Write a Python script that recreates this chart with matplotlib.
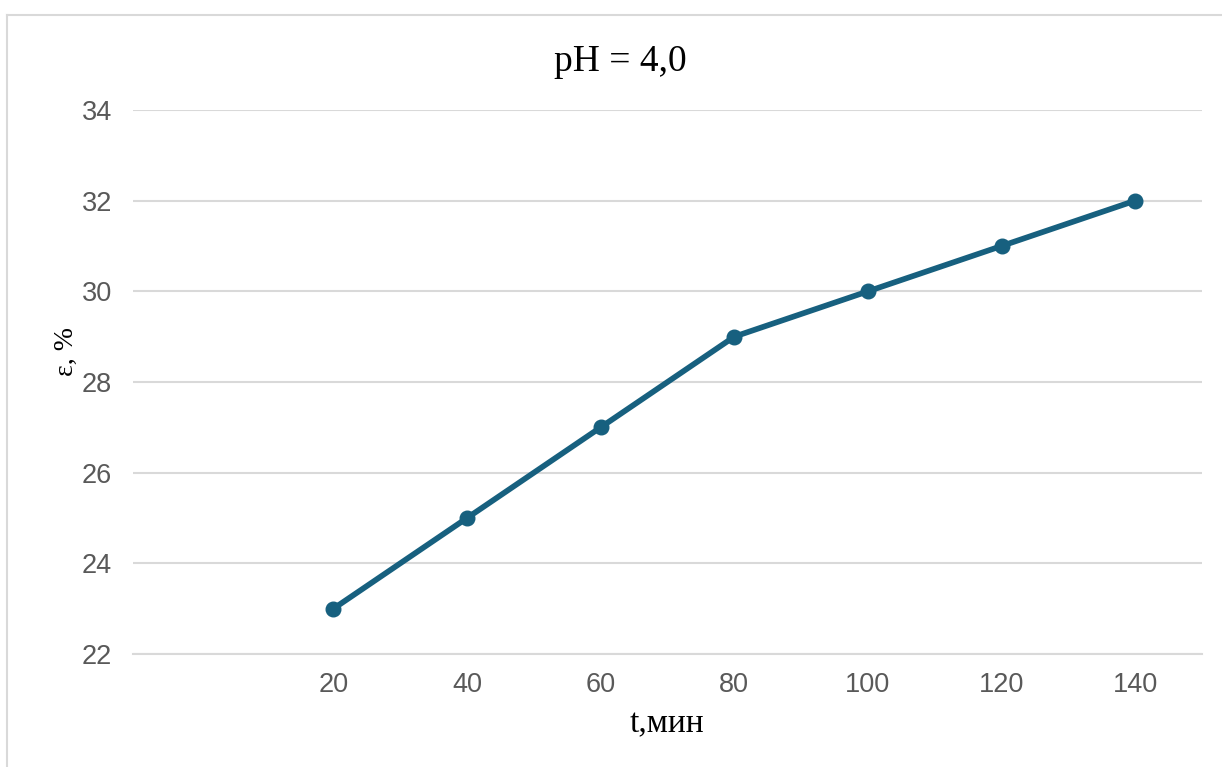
import matplotlib
matplotlib.use("Agg")
import matplotlib.pyplot as plt
from matplotlib.lines import Line2D

categories = [20, 40, 60, 80, 100, 120, 140]
values = [23, 25, 27, 29, 30, 31, 32]
y_ticks = [22, 24, 26, 28, 30, 32, 34]
title = "pH = 4,0"
xlabel = "t,мин"
ylabel = "ε, %"

W, H = 1222, 767
fig = plt.figure(figsize=(W / 100, H / 100), dpi=100)
fig.patch.set_facecolor("white")

# outer chart border (only left and top visible in the reference)
bx, by = 7.5 / W, 1 - 14.5 / H
fig.lines.append(Line2D([bx, bx], [0, by], transform=fig.transFigure,
                        color="#d9d9d9", linewidth=1.5))
fig.lines.append(Line2D([bx, 1], [by, by], transform=fig.transFigure,
                        color="#d9d9d9", linewidth=1.5))

ax = fig.add_axes([133 / W, 1 - 654 / H, (1202 - 133) / W, (654 - 110) / H])
positions = list(range(1, len(categories) + 1))
ax.plot(positions, values, color="#17607f", linewidth=4.1, marker="o",
        markersize=10.5, solid_capstyle="round", solid_joinstyle="round", zorder=3)

ax.set_xlim(-0.5, len(categories) + 0.5)
ax.set_ylim(y_ticks[0], y_ticks[-1])
ax.set_yticks(y_ticks)
ax.set_xticks(positions)
ax.set_xticklabels([str(c) for c in categories])
ax.grid(axis="y", color="#d9d9d9", linewidth=1.5)
ax.set_axisbelow(True)
for s in ["top", "right", "left"]:
    ax.spines[s].set_visible(False)
ax.spines["bottom"].set_color("#d9d9d9")
ax.spines["bottom"].set_linewidth(1.5)
ax.tick_params(axis="both", length=0, labelsize=19.5, labelcolor="#595959")
ax.tick_params(axis="x", pad=13)
ax.tick_params(axis="y", pad=15)
for lab in ax.get_xticklabels() + ax.get_yticklabels():
    lab.set_fontfamily("Liberation Sans")

fig.text(620 / W, 1 - 62 / H, title, ha="center", va="center",
         fontfamily="Liberation Serif", fontsize=27, color="black")
fig.text(667 / W, 1 - 724 / H, xlabel, ha="center", va="center",
         fontfamily="Liberation Serif", fontsize=24, color="black")
fig.text(66 / W, 1 - 351 / H, ylabel, ha="center", va="center", rotation=90,
         fontfamily="Liberation Serif", fontsize=20, color="black")

fig.savefig("out.png", dpi=100, facecolor="white")
